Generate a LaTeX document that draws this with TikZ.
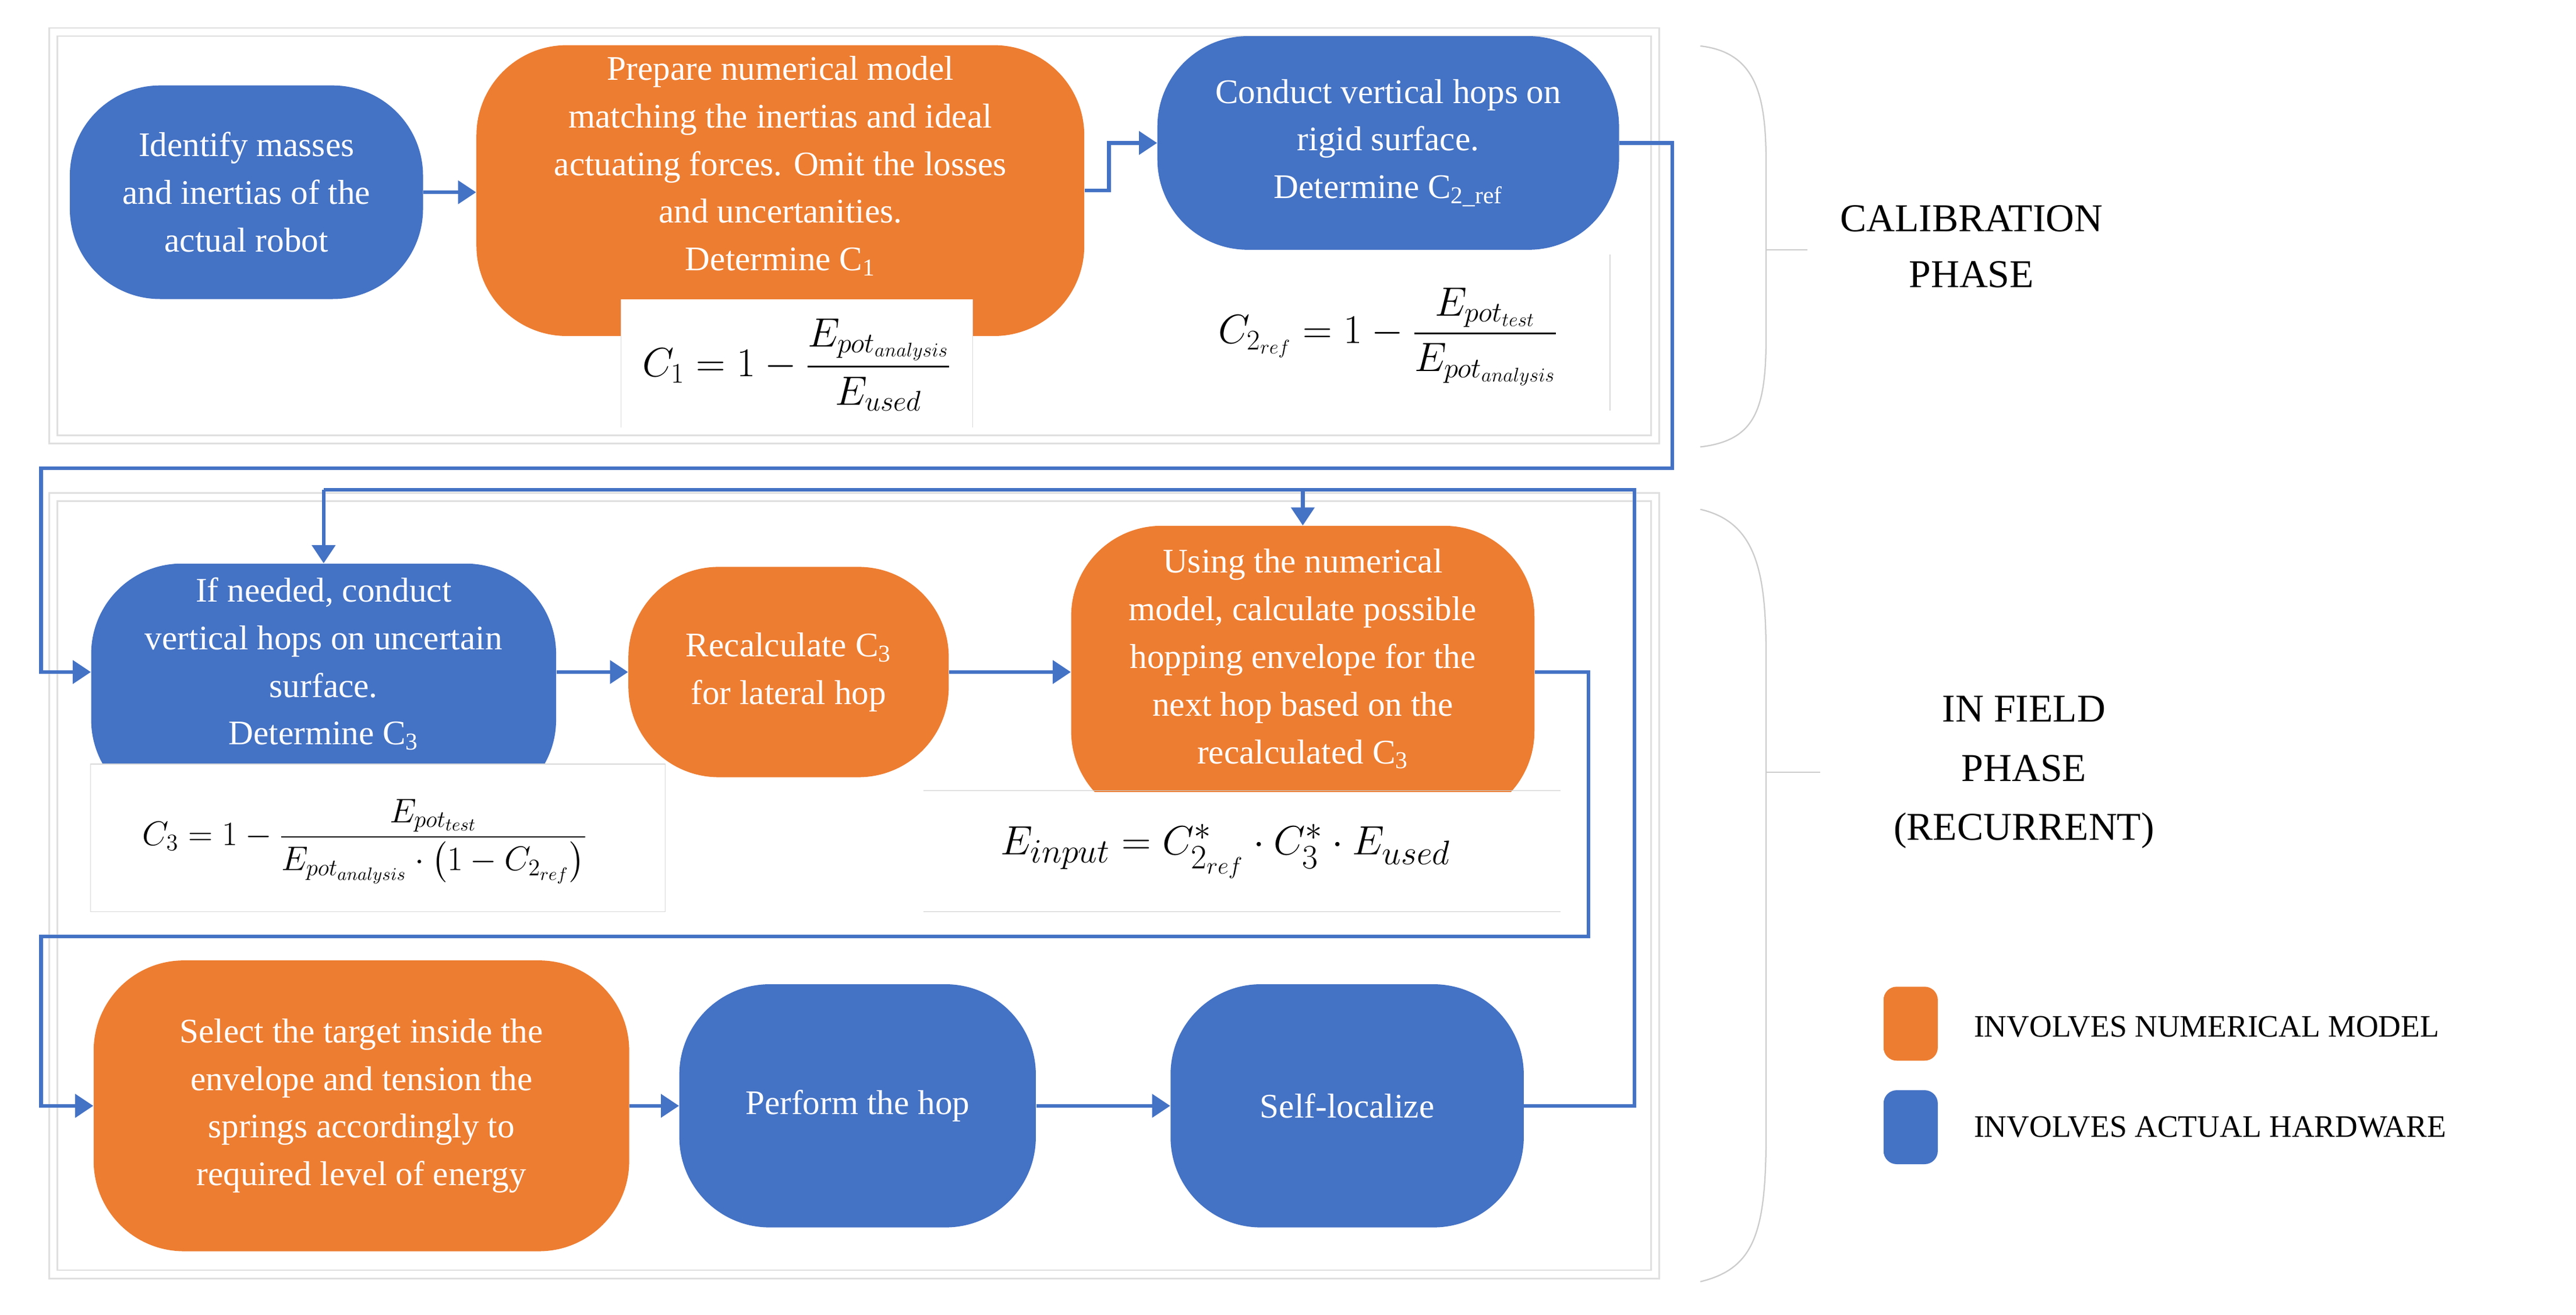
\documentclass[tikz,border=0pt]{standalone}
\usepackage{amsmath}
\usepackage{fontspec}
\setmainfont{Liberation Serif}
\usetikzlibrary{arrows.meta}
\definecolor{bl}{HTML}{4472C4}
\definecolor{og}{HTML}{ED7D31}
\begin{document}
\begin{tikzpicture}[x=1pt,y=-1pt,
 box/.style={rounded corners=55pt,text=white,align=center,font=\fontsize{21}{29}\selectfont,inner sep=0pt},
 bn/.style={box,fill=bl}, on/.style={box,fill=og},
 con/.style={draw=bl,line width=2.2pt,-{Triangle[length=11pt,width=14pt]}},
 ln/.style={draw=bl,line width=2.2pt},
 frame/.style={draw=gray!25,line width=1pt},
 eqf/.style={font=\fontsize{24}{28}\selectfont},
 brace/.style={draw=gray!40,line width=0.8pt}]
\useasboundingbox (0,0) rectangle (1568,800);
% frames
\draw[frame] (30,17) rectangle (1010,270);
\draw[frame] (35,22) rectangle (1005,265);
\draw[frame] (30,300) rectangle (1010,778);
\draw[frame] (35,305) rectangle (1005,773);
% calibration nodes
\node[bn,minimum width=215,minimum height=130] (A) at (150,117) {Identify masses\\and inertias of the\\actual robot};
\node[on,minimum width=370,minimum height=177] (B) at (475,116) {};
\node[box,fill=none] (Bt) at (475,101) {Prepare numerical model\\matching the inertias and ideal\\actuating forces. Omit the losses\\and uncertanities.\\Determine C\textsubscript{1}};
\fill[white] (378,182) rectangle (592,260);
\draw[gray!30] (378,182)--(378,260) (592,182)--(592,260);
\node[eqf] (e1) at (485,222) {$\displaystyle C_1=1-\frac{E_{pot_{analysis}}}{E_{used}}$};
\node[bn,minimum width=281,minimum height=130] (C) at (845,87) {Conduct vertical hops on\\rigid surface.\\Determine C\textsubscript{2\_ref}};
\draw[gray!30] (980,155)--(980,250);
\node[eqf] (e2) at (845,205) {$\displaystyle C_{2_{ref}}=1-\frac{E_{pot_{test}}}{E_{pot_{analysis}}}$};
% field nodes
\node[bn,minimum width=283,minimum height=150] (D) at (197,418) {};
\node[on,minimum width=195,minimum height=128] (E) at (480,409) {Recalculate C\textsubscript{3}\\for lateral hop};
\node[on,minimum width=282,minimum height=180] (F) at (793,410) {};
\fill[white] (55,465) rectangle (405,555);
\draw[gray!30] (55,465) rectangle (405,555);
\fill[white] (562,482) rectangle (950,500);
\node[box,fill=none] at (197,404) {If needed, conduct\\vertical hops on uncertain\\surface.\\Determine C\textsubscript{3}};
\node[box,fill=none] at (793,401) {Using the numerical\\model, calculate possible\\hopping envelope for the\\next hop based on the\\recalculated C\textsubscript{3}};
\node[font=\fontsize{22}{26}\selectfont] (e3) at (222,512) {$\displaystyle C_3=1-\frac{E_{pot_{test}}}{E_{pot_{analysis}}\cdot\left(1-C_{2_{ref}}\right)}$};
\draw[gray!40] (562,481)--(950,481) (562,555)--(950,555);
\node[font=\fontsize{28}{32}\selectfont] (e4) at (746,518) {$E_{input}=C^{*}_{2_{ref}}\cdot C^{*}_{3}\cdot E_{used}$};
\node[on,minimum width=326,minimum height=177] (G) at (220,673) {Select the target inside the\\envelope and tension the\\springs accordingly to\\required level of energy};
\node[bn,minimum width=217,minimum height=148] (H) at (522,673) {Perform the hop};
\node[bn,minimum width=215,minimum height=148] (I) at (820,673) {Self-localize};
% connectors
\coordinate (p1) at (675,116); \coordinate (p2) at (675,87);
\coordinate (q1) at (1018,87); \coordinate (q2) at (1018,285); \coordinate (q3) at (25,285); \coordinate (q4) at (25,409);
\coordinate (r1) at (995,673); \coordinate (r2) at (995,298); \coordinate (r3) at (197,298); \coordinate (r4) at (793,298);
\coordinate (s1) at (967,409); \coordinate (s2) at (967,570); \coordinate (s3) at (25,570); \coordinate (s4) at (25,673);
\draw[con] (A.east) -- (B.west|-A.east);
\draw[con] (B.east|-p1) -- (p1) -- (p2) -- (C.west);
\draw[con] (C.east) -- (q1) -- (q2) -- (q3) -- (q4) -- (D.west|-q4);
\draw[con] (D.east|-E.west) -- (E.west);
\draw[con] (E.east) -- (F.west|-E.east);
\draw[con] (F.east|-s1) -- (s1) -- (s2) -- (s3) -- (s4) -- (G.west);
\draw[con] (G.east) -- (H.west);
\draw[con] (H.east) -- (I.west);
\draw[ln] (I.east) -- (r1) -- (r2) -- (r3);
\draw[con] (r3) -- (D.north);
\draw[con] (r4) -- (F.north);
% braces
\draw[brace] (1035,28) .. controls (1070,32) and (1075,60) .. (1075,100) -- (1075,205) .. controls (1075,250) and (1068,268) .. (1035,272);
\draw[brace] (1075,152) -- (1100,152);
\node[font=\fontsize{24}{34}\selectfont,align=center] (cal) at (1200,150) {CALIBRATION\\PHASE};
\draw[brace] (1035,310) .. controls (1070,318) and (1075,350) .. (1075,400) -- (1075,690) .. controls (1075,750) and (1068,772) .. (1035,780);
\draw[brace] (1075,470) -- (1108,470);
\node[font=\fontsize{24}{36}\selectfont,align=center] (inf) at (1232,470) {IN FIELD\\PHASE\\(RECURRENT)};
% legend
\node[fill=og,rounded corners=8pt,minimum width=33,minimum height=45,inner sep=0pt] (l1) at (1163,623) {};
\node[fill=bl,rounded corners=8pt,minimum width=33,minimum height=45,inner sep=0pt] (l2) at (1163,686) {};
\node[anchor=west,font=\fontsize{19}{22}\selectfont] at (1198,625) {INVOLVES NUMERICAL MODEL};
\node[anchor=west,font=\fontsize{19}{22}\selectfont] at (1198,686) {INVOLVES ACTUAL HARDWARE};
\end{tikzpicture}
\end{document}
